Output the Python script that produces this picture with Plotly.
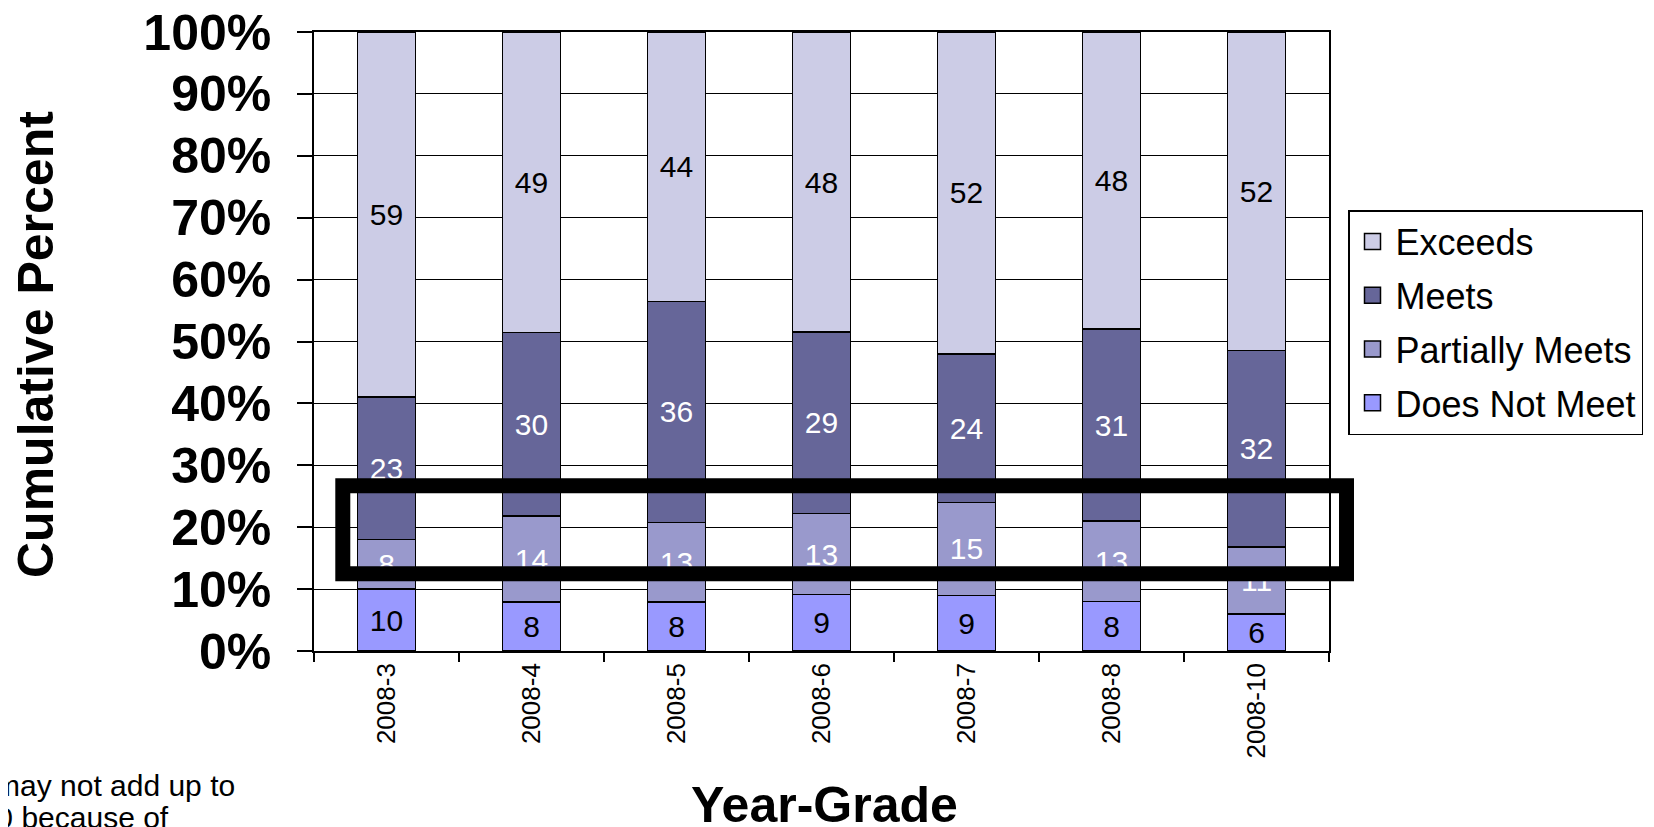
# %% imports
import plotly.graph_objects as go

# %% data
grades = ['2008-3', '2008-4', '2008-5', '2008-6', '2008-7', '2008-8', '2008-10']
does_not_meet = [10, 8, 8, 9, 9, 8, 6]
partially_meets = [8, 14, 13, 13, 15, 13, 11]
meets = [23, 30, 36, 29, 24, 31, 32]
exceeds = [59, 49, 44, 48, 52, 48, 52]

# %% figure
# the page body has an 8px margin, so work in screen px and shift back
W, H = 1654, 827
OFF = 8
L, R, T, B = 314 - OFF, W - 1329 + OFF, 32 - OFF, H - 651 + OFF
PW, PH = W - L - R, H - T - B
FONT = 'Liberation Sans, Arial, sans-serif'


def px_x(p):
    return (p - OFF - L) / PW


def px_y(p):
    return (H - B - (p - OFF)) / PH


series = [
    ('Does Not Meet', does_not_meet, '#9999FF', 'black'),
    ('Partially Meets', partially_meets, '#9999CC', 'white'),
    ('Meets', meets, '#666699', 'white'),
    ('Exceeds', exceeds, '#CCCCE6', 'black'),
]

fig = go.Figure()
for name, vals, col, tcol in series:
    fig.add_trace(go.Bar(
        x=grades, y=vals, name=name, showlegend=False,
        marker=dict(color=col, line=dict(color='black', width=1.5)),
        text=[str(v) for v in vals], textposition='inside',
        insidetextanchor='middle', textangle=0, constraintext='none',
        textfont=dict(family=FONT, size=30, color=tcol),
    ))
# legend entries with bigger square swatches, top to bottom
for name, vals, col, tcol in series[::-1]:
    fig.add_trace(go.Scatter(
        x=[None], y=[None], name=name, mode='markers', legendgroup=name,
        marker=dict(symbol='square', size=19, color=col,
                    line=dict(color='black', width=1.5)),
    ))

fig.update_layout(
    width=W, height=H,
    margin=dict(l=L, r=R, t=T, b=B, autoexpand=False),
    barmode='stack', barnorm='percent', bargap=0.6,
    plot_bgcolor='white', paper_bgcolor='white',
    font=dict(family=FONT, color='black'),
    uniformtext=dict(minsize=30, mode='show'),
    legend=dict(
        x=px_x(1348), y=px_y(210), xanchor='left', yanchor='top',
        traceorder='grouped', bordercolor='black', borderwidth=1.5,
        bgcolor='white', font=dict(family=FONT, size=36),
        itemwidth=36, tracegroupgap=4,
    ),
    showlegend=True,
)

fig.update_yaxes(
    range=[0, 100], dtick=10, ticksuffix='%', automargin=False,
    showgrid=True, gridcolor='black', gridwidth=1.2,
    showline=True, linecolor='black', linewidth=1.5, mirror=True,
    ticks='outside', ticklen=15, tickcolor='black', tickwidth=1.5,
    ticklabelstandoff=16, ticklabeloverflow='allow',
    tickfont=dict(family=FONT, size=50, weight='bold'),
    zeroline=False,
)
fig.update_xaxes(
    type='category', automargin=False,
    showline=True, linecolor='black', linewidth=1.5, mirror=True,
    ticks='outside', ticklen=9, tickcolor='black', tickwidth=1.5,
    tickson='boundaries', tickangle=-90, ticklabeloverflow='allow',
    tickfont=dict(family=FONT, size=26),
)

# axis titles
fig.add_annotation(
    text='Cumulative Percent', textangle=-90, showarrow=False,
    xref='paper', yref='paper', x=px_x(36), y=px_y(345),
    xanchor='center', yanchor='middle',
    font=dict(family=FONT, size=50, weight='bold'),
)
fig.add_annotation(
    text='Year-Grade', showarrow=False,
    xref='paper', yref='paper', x=px_x(824), y=px_y(805),
    xanchor='center', yanchor='middle',
    font=dict(family=FONT, size=50, weight='bold'),
)

# footnote, cut off at the page edge
fig.add_annotation(
    text='may not add up to', showarrow=False,
    xref='paper', yref='paper', x=px_x(237), y=px_y(785),
    xanchor='right', yanchor='middle',
    font=dict(family=FONT, size=30),
)
fig.add_annotation(
    text='100 because of', showarrow=False,
    xref='paper', yref='paper', x=px_x(171), y=px_y(817),
    xanchor='right', yanchor='middle',
    font=dict(family=FONT, size=30),
)

# highlight box around the 10-25% band
box = dict(x0=px_x(342.8), x1=px_x(1346.5), y0=0.125, y1=0.267)
fig.add_shape(
    type='rect', xref='paper', yref='paper', **box,
    line=dict(color='black', width=15), fillcolor='rgba(0,0,0,0)',
    layer='above',
)

fig.write_html('out.html')
